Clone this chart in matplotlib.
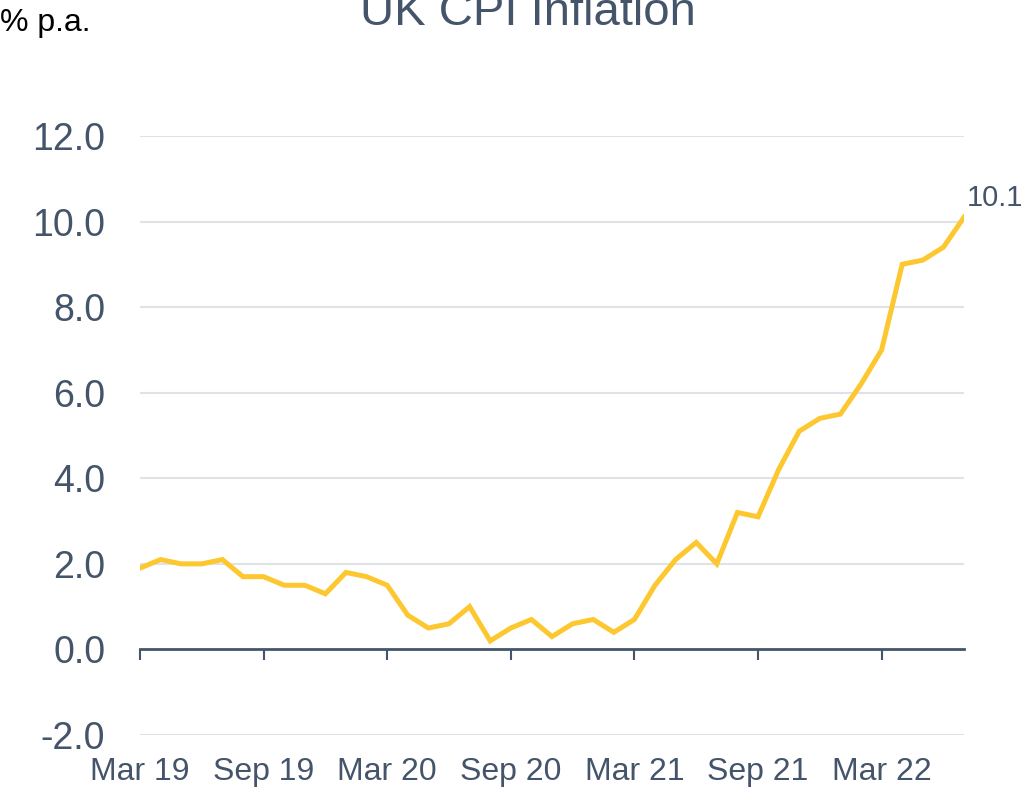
import matplotlib
matplotlib.use("Agg")
import matplotlib.pyplot as plt
import numpy as np

plt.rcParams['font.family'] = ['Liberation Sans', 'DejaVu Sans']

# UK CPI, % p.a., monthly Mar 2019 - Jul 2022
cpi = [1.9, 2.1, 2.0, 2.0, 2.1, 1.7, 1.7, 1.5, 1.5, 1.3,
       1.8, 1.7, 1.5, 0.8, 0.5, 0.6, 1.0, 0.2, 0.5, 0.7, 0.3, 0.6,
       0.7, 0.4, 0.7, 1.5, 2.1, 2.5, 2.0, 3.2, 3.1, 4.2, 5.1, 5.4,
       5.5, 6.2, 7.0, 9.0, 9.1, 9.4, 10.1]
tick_labels = ['Mar 19', 'Sep 19', 'Mar 20', 'Sep 20', 'Mar 21', 'Sep 21', 'Mar 22']
y_ticks = [-2, 0, 2, 4, 6, 8, 10, 12]

slate = '#44546a'
yellow = '#fdc72f'

W, H = 1024, 793
fig = plt.figure(figsize=(W / 100, H / 100), dpi=100)
ax = fig.add_axes([140 / W, (H - 735) / H, (964 - 140) / W, (735 - 136) / H])

x = np.arange(len(cpi))
ax.plot(x, cpi, color=yellow, lw=3.6, solid_joinstyle='miter', zorder=3)
ax.annotate(f'{cpi[-1]:.1f}', (x[-1], cpi[-1]), xytext=(2, 4), textcoords='offset points',
            ha='left', va='bottom', fontsize=21, color=slate, annotation_clip=False)

ax.set_xlim(0, len(cpi) - 1)
ax.set_ylim(-2, 12)
ax.set_yticks(y_ticks)
ax.set_yticklabels([f'{v:.1f}' for v in y_ticks])
for v in y_ticks:
    if v != 0:
        ax.axhline(v, color='#dfe3e8', lw=1.5, zorder=1)

tick_pos = np.arange(0, len(cpi), 6)
ax.set_xticks(tick_pos)
ax.set_xticklabels(tick_labels)
ax.tick_params(axis='x', length=0, pad=16, labelsize=23, labelcolor=slate)
ax.tick_params(axis='y', length=0, pad=25, labelsize=27, labelcolor=slate)
for s in ax.spines.values():
    s.set_visible(False)

# zero line with downward ticks
sec = ax.secondary_xaxis(2 / 14)
sec.set_xticks(tick_pos)
sec.set_xticklabels([])
sec.tick_params(length=8, width=1.5, color=slate, direction='out')
sec.spines['bottom'].set_color(slate)
sec.spines['bottom'].set_linewidth(2)

fig.text(528 / W, 1 - 25 / H, 'UK CPI Inflation', ha='center', va='baseline',
         fontsize=34, color=slate)
fig.text(0, 1 - 31 / H, '% p.a.', ha='left', va='baseline', fontsize=23, color='black')

fig.savefig('out.png', dpi=100)
